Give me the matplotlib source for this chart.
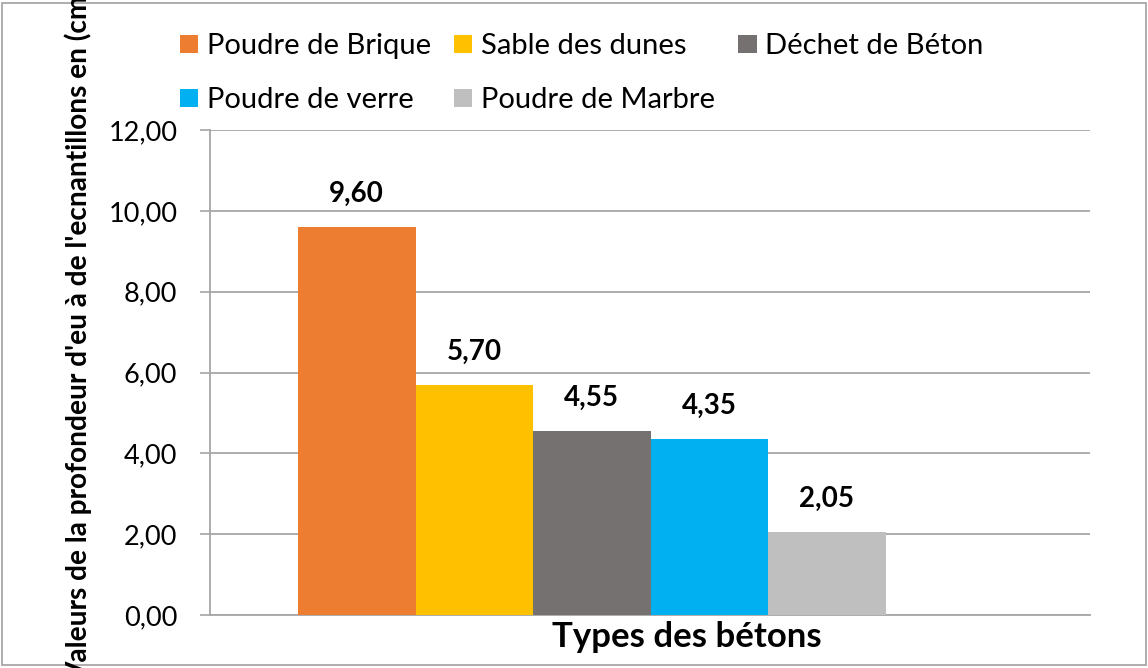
import matplotlib.pyplot as plt
from matplotlib.patches import Rectangle
from matplotlib.ticker import FuncFormatter

plt.rcParams['font.family'] = ['Lato', 'DejaVu Sans']

series = ['Poudre de Brique', 'Sable des dunes', 'Déchet de Béton',
          'Poudre de verre', 'Poudre de Marbre']
values = [9.60, 5.70, 4.55, 4.35, 2.05]
colors = ['#ED7D31', '#FFC000', '#767171', '#00B0F0', '#BFBFBF']

fig = plt.figure(figsize=(11.48, 6.68), dpi=100)
ax = fig.add_axes([210/1148, 1-615/668, 880/1148, 485/668])

bars = []
for i, (name, v, c) in enumerate(zip(series, values, colors)):
    b = ax.bar(i, v, width=1.0, color=c, label=name, zorder=3)
    bars.append(b)
    ax.text(i, v + 0.62, f'{v:.2f}'.replace('.', ','), ha='center', va='baseline',
            fontsize=20, fontweight='bold', zorder=4)

ax.set_xlim(-1.249, 6.24)
ax.set_ylim(0, 12)
ax.set_yticks(range(0, 13, 2))
ax.yaxis.set_major_formatter(FuncFormatter(lambda y, p: f'{y:.2f}'.replace('.', ',')))
ax.tick_params(axis='y', labelsize=19.5, length=7.5, width=1.2, color='#A6A6A6', pad=16)
ax.set_xticks([])
ax.grid(axis='y', color='#A6A6A6', linewidth=1.3, zorder=0)
for s in ['top', 'right']:
    ax.spines[s].set_visible(False)
for s in ['left', 'bottom']:
    ax.spines[s].set_color('#A6A6A6')
    ax.spines[s].set_linewidth(1.3)

# legend, Excel style: row 1 three items, row 2 two items
order = [0, 3, 1, 4, 2]
fig.legend([bars[k] for k in order], [series[k] for k in order], ncol=3,
           loc='upper left', bbox_to_anchor=(180/1148, 1-33/668), frameon=False,
           fontsize=21, handlelength=0.62, handleheight=0.58, handletextpad=0.3,
           columnspacing=0.8, labelspacing=0.97, borderpad=0, borderaxespad=0)

fig.text(687/1148, 1-647/668, 'Types des bétons', ha='center', va='baseline',
         fontsize=25, fontweight='bold')
fig.text(78/1148, 0.5, "Valeurs de la profondeur d'eu à de l'ecnantillons en (cm)",
         rotation=90, ha='center', va='center', fontsize=20.2, fontweight='bold')

fig.patches.append(Rectangle((2/1148, 3/668), 1144/1148, 662/668, transform=fig.transFigure,
                             fill=False, edgecolor='#A0A0A0', linewidth=1.2))

fig.savefig('out.png', dpi=100)
